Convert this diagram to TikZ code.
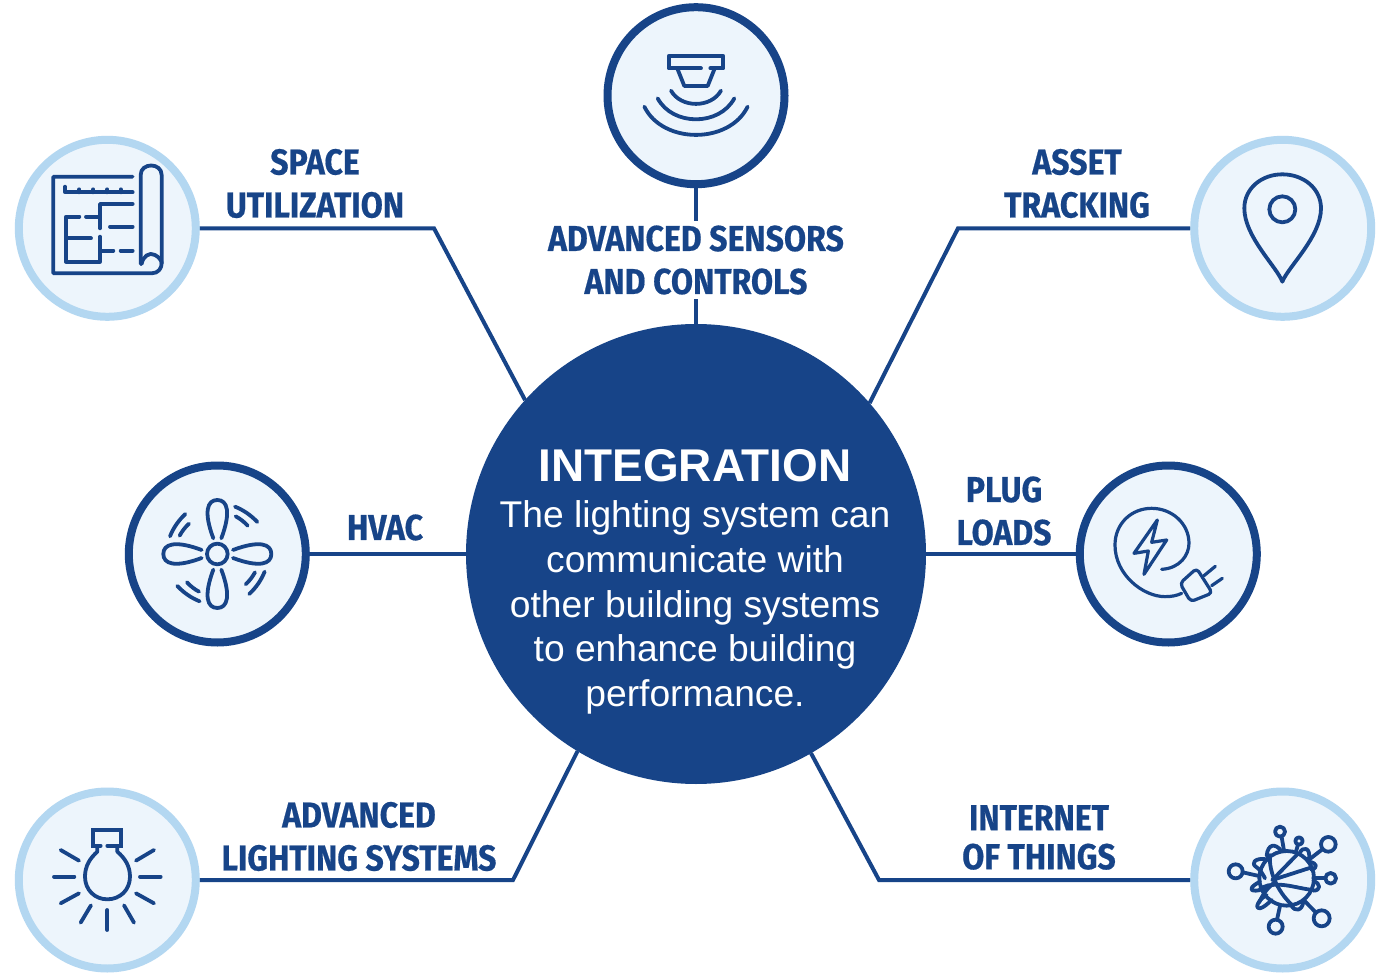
\documentclass[tikz,border=0pt]{standalone}
\usepackage{fontspec}
\setmainfont{Liberation Sans}
\newfontfamily\labelfont[FakeStretch=0.89,BoldFeatures={FakeBold=0.5}]{Fira Sans}
\definecolor{navy}{HTML}{174488}
\definecolor{ringlight}{HTML}{B3D7F1}
\definecolor{paleblue}{HTML}{EDF5FC}
\tikzset{
  ringdark/.style={circle,draw=navy,line width=8pt,fill=paleblue,minimum size=177pt,inner sep=0pt},
  ringpale/.style={circle,draw=ringlight,line width=8pt,fill=paleblue,minimum size=177pt,inner sep=0pt},
  hub/.style={circle,fill=navy,minimum size=460pt,inner sep=0pt,outer sep=0pt},
  link/.style={draw=navy,line width=4pt,line join=miter},
  tag/.style={align=center,text=navy,font=\labelfont\bfseries\fontsize{36}{43}\selectfont,inner sep=0pt},
  icon/.style={draw=navy,line width=3.8pt,line cap=round,line join=round},
  thinicon/.style={icon,line width=3.2pt},
}
\begin{document}
\begin{tikzpicture}[x=1pt,y=-1pt]
\useasboundingbox (0,0) rectangle (1386,973);
\fill[white] (0,0) rectangle (1386,973);

% hub and rings
\node[hub] (hubc) at (696,554) {};
\node[ringdark] (sensors) at (696,95.7) {};
\node[ringpale] (space) at (107.3,228.3) {};
\node[ringpale] (asset) at (1282.7,228.3) {};
\node[ringdark] (hvac) at (217.3,554) {};
\node[ringdark] (plug) at (1168.3,554) {};
\node[ringpale] (lighting) at (107.3,880) {};
\node[ringpale] (iot) at (1282.7,880) {};

% bends
\coordinate (bspace) at (434,228.3);
\coordinate (basset) at (958,228.3);
\coordinate (blight) at (513,880);
\coordinate (biot) at (879,880);

% connectors
\draw[link] (sensors) -- (hubc);
\draw[link] (space) -- (bspace) -- (hubc.138.6);
\draw[link] (asset) -- (basset) -- (hubc.41.4);
\draw[link] (hvac) -- (hubc);
\draw[link] (plug) -- (hubc);
\draw[link] (lighting) -- (blight) -- (hubc.239.8);
\draw[link] (iot) -- (biot) -- (hubc.300.2);

% labels
\node[tag] (tspace) at (315,183.5) {SPACE\\UTILIZATION};
\node[tag] (tasset) at (1077,183.5) {ASSET\\TRACKING};
\node[tag,fill=white,inner ysep=4pt,inner xsep=4pt] (tsensors) at (696,260) {ADVANCED SENSORS\\AND CONTROLS};
\node[tag] (thvac) at (385,527.5) {HVAC};
\node[tag] (tplug) at (1004,511) {PLUG\\LOADS};
\node[tag] (tlight) at (359,836.5) {ADVANCED\\LIGHTING SYSTEMS};
\node[tag] (tiot) at (1039,837.5) {INTERNET\\[-4pt]OF THINGS};

% centre text
\node[align=center,text=white,inner sep=0pt,font=\fontsize{37.2}{44.8}\selectfont] (tcentre) at (695,582)
  {{\bfseries\fontsize{45.9}{50}\selectfont INTEGRATION}\\[1pt]
   The lighting system can\\communicate with\\other building systems\\to enhance building\\performance.};

% ---- floor plan icon
\begin{scope}[shift={(10,130)},scale=0.3333]
\draw[icon] (368,140) -- (130,140) -- (130,430) -- (425,430) .. controls (445,430) and (455,415) .. (455,400) -- (455,135) .. controls (455,97) and (392,97) .. (392,135) -- (392,402);
\draw[icon] (395,402) .. controls (398,380) and (418,365) .. (435,375) .. controls (448,382) and (455,392) .. (455,400);
\draw[icon] (165,170) -- (165,187) -- (368,187);
\draw[icon] (208,178) -- (208,187) (250,178) -- (250,187) (292,178) -- (292,187) (332,178) -- (332,187);
\draw[icon] (368,222) -- (270,222) -- (270,295);
\draw[icon] (270,320) -- (270,395) -- (168,395) -- (168,260) -- (208,260);
\draw[icon] (228,260) -- (270,260);
\draw[icon] (168,325) -- (243,325);
\draw[icon] (300,290) -- (368,290);
\draw[icon] (270,362) -- (310,362);
\draw[icon] (332,362) -- (368,362);
\end{scope}

% ---- sensor icon
\begin{scope}[shift={(596,0)},scale=0.3333]
\draw[icon] (343,205) -- (382,205) -- (382,168) -- (218,168) -- (218,205) -- (315,205);
\draw[icon] (245,208) -- (265,258) -- (335,258) -- (355,208);
\draw[icon] (225,272) .. controls (255,325) and (345,325) .. (375,272);
\draw[icon] (185,295) .. controls (230,379) and (370,379) .. (415,295);
\draw[icon] (145,320) .. controls (200,433) and (400,433) .. (455,320);
\end{scope}

% ---- fan icon
\begin{scope}[shift={(120,455)},scale=0.3333]
\draw[icon] (292,297) circle (31);
\foreach \a in {0,90,180,270}{
  \begin{scope}[rotate around={\a:(292,297)}]
    \draw[icon] (280,250) .. controls (250,170) and (262,135) .. (292,135) .. controls (322,135) and (334,170) .. (304,250);
    \draw[icon] (345,155) .. controls (370,165) and (392,180) .. (412,201);
    \draw[icon] (347,184) .. controls (360,191) and (372,200) .. (383,212);
  \end{scope}
}
\end{scope}

% ---- plug icon
\begin{scope}[shift={(1070,455)},scale=0.3333]
\draw[thinicon] (275,343) .. controls (330,340) and (357,300) .. (357,265) .. controls (357,205) and (305,160) .. (245,160) .. controls (185,160) and (135,205) .. (135,270) .. controls (135,360) and (220,425) .. (285,425) .. controls (305,425) and (320,422) .. (335,415);
\draw[thinicon] (262,195) -- (192,295) -- (235,288) -- (222,358) -- (290,255) -- (245,262) -- cycle;
\draw[thinicon,rounded corners=4pt] (380,340) -- (427,414) -- (362,440) -- (330,385) -- cycle;
\draw[thinicon] (402,362) -- (436,334);
\draw[thinicon] (425,392) -- (457,370);
\end{scope}

% ---- bulb icon
\begin{scope}[shift={(10,780)},scale=0.3333]
\draw[icon,line join=miter] (272,197) -- (250,197) -- (250,150) -- (333,150) -- (333,197) -- (292,197);
\draw[icon] (262,200) -- (262,215) .. controls (240,235) and (225,258) .. (225,290) .. controls (225,330) and (255,358) .. (292,358) .. controls (330,358) and (360,330) .. (360,290) .. controls (360,258) and (345,235) .. (322,215) -- (322,200);
\draw[icon] (132,290) -- (193,290);
\draw[icon] (390,290) -- (452,290);
\draw[icon] (292,390) -- (292,450);
\draw[icon] (152,210) -- (207,242);
\draw[icon] (432,210) -- (378,242);
\draw[icon] (152,370) -- (207,340);
\draw[icon] (432,370) -- (378,340);
\draw[icon] (212,428) -- (243,376);
\draw[icon] (372,428) -- (342,376);
\end{scope}

% ---- internet of things icon
\begin{scope}[shift={(1185,780)},scale=0.3333]
\draw[icon] (305,295) circle (82);
\draw[icon] (285,155) circle (15) (342,183) circle (11) (430,193) circle (22) (437,295) circle (16) (410,415) circle (24) (272,440) circle (21) (152,274) circle (21);
\draw[icon] (290,171) -- (297,212);
\draw[icon] (339,194) -- (332,218);
\draw[icon] (412,208) -- (368,242);
\draw[icon] (421,295) -- (385,295);
\draw[icon] (393,398) -- (358,362);
\draw[icon] (276,419) -- (285,378);
\draw[icon] (173,277) -- (222,288);
\draw[icon] (262,300) -- (335,225);
\draw[icon] (262,300) -- (380,262);
\draw[icon] (255,225) .. controls (250,280) and (285,345) .. (325,378);
\draw[icon] (222,368) .. controls (235,340) and (250,320) .. (272,305);
\draw[icon] (225,325) .. controls (280,300) and (330,325) .. (385,330);
\draw[icon] (245,228) .. controls (248,190) and (272,190) .. (288,212);
\draw[icon] (345,218) .. controls (352,200) and (378,200) .. (372,238);
\draw[icon] (372,245) .. controls (398,250) and (398,262) .. (380,270);
\draw[icon] (385,303) .. controls (408,310) and (408,332) .. (385,332);
\draw[icon] (318,375) .. controls (330,398) and (352,392) .. (355,365);
\draw[icon] (245,345) .. controls (225,355) and (205,385) .. (225,385) .. controls (235,383) and (250,370) .. (260,360);
\draw[icon] (225,305) .. controls (205,315) and (185,332) .. (212,332) .. controls (225,332) and (240,325) .. (250,315);
\draw[icon] (245,238) .. controls (210,232) and (195,250) .. (215,262) .. controls (225,268) and (235,285) .. (240,295);
\end{scope}

% ---- pin icon
\begin{scope}[shift={(1185,130)},scale=0.3333]
\draw[icon] (292,238) circle (39);
\draw[icon] (292,455) .. controls (275,410) and (178,320) .. (178,235) .. controls (178,175) and (230,133) .. (292,133) .. controls (355,133) and (408,175) .. (408,235) .. controls (408,320) and (310,410) .. (292,455) -- cycle;
\end{scope}
\end{tikzpicture}
\end{document}
